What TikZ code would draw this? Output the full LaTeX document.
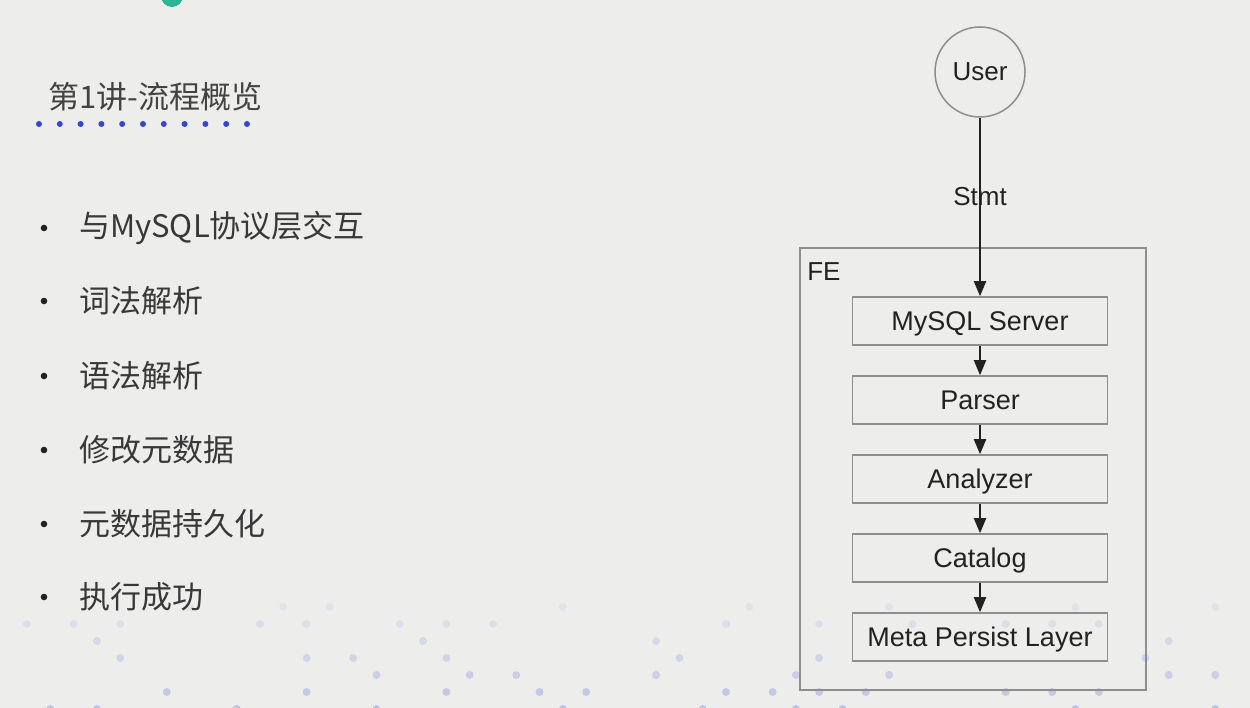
\documentclass[tikz,border=0pt]{standalone}
\usepackage{fontspec}
\setmainfont{Liberation Sans}
\newfontfamily\cjk{Noto Sans CJK SC}
\usetikzlibrary{positioning,arrows.meta}
\definecolor{slidebg}{HTML}{EDEEEC}
\definecolor{linegray}{HTML}{8E8E8E}
\definecolor{dotblue}{HTML}{3445CF}
\definecolor{dotlilac}{HTML}{B4B8E2}
\definecolor{logoteal}{HTML}{2DB596}
\definecolor{ink}{HTML}{222222}

\begin{document}
\begin{tikzpicture}[x=1pt,y=1pt,node distance=29.5pt,
>={Triangle[length=15pt,width=12pt]},
layer/.style={
% The shape:
rectangle,
% The size:
minimum width=255pt, minimum height=48pt,
% keep the capitals in the middle of the box
text height=19pt, text depth=0pt,
% The border:
line width=1.5pt, draw=linegray,
% Font
font=\fontsize{27}{30}\selectfont, text=ink
},
client/.style={
% The shape:
circle, minimum size=90pt,
% The rest
line width=1.5pt, draw=linegray,
font=\fontsize{26}{30}\selectfont, text=ink},
container/.style={
rectangle, minimum width=346pt, minimum height=442pt,
line width=1.8pt, draw=linegray},
item/.style={anchor=west, inner sep=0pt,
font=\cjk\fontsize{31}{34}\selectfont, text=ink!90},
flow/.style={->, line width=2pt, draw=ink}
]

% slide background
\useasboundingbox[fill=slidebg] (0,0) rectangle (1250,708);

% faint dots along the bottom
\pgfmathsetseed{1234}
\foreach \j in {0,...,6}{
 \foreach \i in {0,...,26}{
  \pgfmathrandominteger{\keep}{0}{9}
  \ifnum\keep<4
   \pgfmathsetmacro{\dx}{27+23.3*(2*\i+mod(\j+1,2))}
   \pgfmathsetmacro{\dy}{101-17*\j}
   \pgfmathtruncatemacro{\tone}{20+10*\j}
   \fill[dotlilac!\tone!slidebg] (\dx,\dy) circle (4pt);
  \fi
 }
}

% logo, cut at the top edge
\fill[logoteal] (172,712) circle (11pt);

% title and its dotted rule
\node (title) [item, text=ink!85] at (48,611) {第1讲-流程概览};
\draw[dotblue, line width=6pt, line cap=round, dash pattern=on 0pt off 20.8pt] (39,584) -- (248,584);

% bullet list
\node (i1) [item] at (79,480) {与MySQL协议层交互};
\node (i2) [item] at (79,407) {词法解析};
\node (i3) [item] at (79,332) {语法解析};
\node (i4) [item] at (79,258) {修改元数据};
\node (i5) [item] at (79,184) {元数据持久化};
\node (i6) [item] at (79,111) {执行成功};
\foreach \y in {480,407,332,258,184,111}
 \fill[ink] (44,\y) circle (3.3pt);

% FE flow
\node (user) [client] at (980,636) {User};
\node (fe) [container] at (973,239) {};
\node (felabel) [below right=15pt and 8pt of fe.north west, inner sep=0pt,
 font=\fontsize{26}{30}\selectfont, text=ink] {FE};
\node (mysql) [layer] at (980,387) {MySQL Server};
\node (parser) [layer, below=of mysql] {Parser};
\node (analyzer) [layer, below=of parser] {Analyzer};
\node (catalog) [layer, below=of analyzer] {Catalog};
\node (persist) [layer, below=of catalog] {Meta Persist Layer};

\draw[flow] (user) -- node (stmt) [pos=0.44, font=\fontsize{26}{30}\selectfont, text=ink] {Stmt} (mysql);
\path (mysql) edge[flow] (parser);
\path (parser) edge[flow] (analyzer);
\path (analyzer) edge[flow] (catalog);
\path (catalog) edge[flow] (persist);
\end{tikzpicture}
\end{document}
